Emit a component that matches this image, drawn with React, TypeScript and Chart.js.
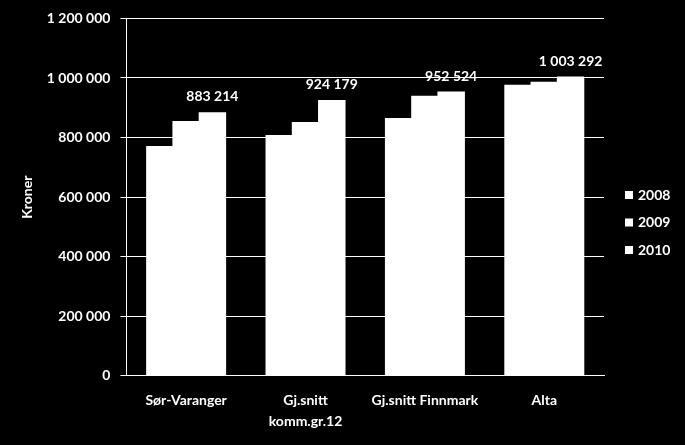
import React, { useEffect, useRef } from "react";
import { Chart, registerables } from "chart.js";

Chart.register(...registerables);

const categories: (string | string[])[] = [
  "Sør-Varanger",
  ["Gj.snitt", "komm.gr.12"],
  "Gj.snitt Finnmark",
  "Alta",
];
const seriesNames = ["2008", "2009", "2010"];
const values2008 = [770000, 807000, 864000, 975000];
const values2009 = [854000, 850000, 938000, 985000];
const values2010 = [883214, 924179, 952524, 1003292];
const yMax = 1200000;
const yStep = 200000;

const FONT = "Lato, 'Open Sans', sans-serif";
const FS = 14;

function fmt(n: number): string {
  return Math.round(n)
    .toString()
    .replace(/\B(?=(\d{3})+(?!\d))/g, " ");
}

const labelPlugin = {
  id: "valueLabels",
  afterDatasetsDraw(chart: any) {
    const ctx = chart.ctx;
    const idx = 2;
    const meta = chart.getDatasetMeta(idx);
    const data = chart.data.datasets[idx].data as number[];
    ctx.save();
    ctx.fillStyle = "#ffffff";
    ctx.font = `bold ${FS}px ${FONT}`;
    ctx.textAlign = "center";
    ctx.textBaseline = "middle";
    meta.data.forEach((bar: any, i: number) => {
      ctx.fillText(fmt(data[i]), bar.x, bar.y - 16);
    });
    ctx.restore();
  },
};

const legendPlugin = {
  id: "sideLegend",
  afterDraw(chart: any) {
    const ctx = chart.ctx;
    const area = chart.chartArea;
    const ds = chart.data.datasets;
    const step = 27.5;
    const cy = chart.height / 2;
    const startY = cy - ((ds.length - 1) * step) / 2;
    const x = area.right + 21;
    ctx.save();
    ctx.font = `bold ${FS}px ${FONT}`;
    ctx.textBaseline = "middle";
    ctx.textAlign = "left";
    ds.forEach((d: any, i: number) => {
      const y = startY + i * step;
      ctx.fillStyle = d.backgroundColor;
      ctx.fillRect(x, y - 4, 8, 8);
      ctx.fillStyle = "#ffffff";
      ctx.fillText(d.label, x + 13, y);
    });
    ctx.restore();
  },
};

export default function App() {
  const ref = useRef<HTMLCanvasElement>(null);
  useEffect(() => {
    if (!ref.current) return;
    const chart = new Chart(ref.current, {
      type: "bar",
      data: {
        labels: categories,
        datasets: [
          { label: seriesNames[0], data: values2008, backgroundColor: "#ffffff" },
          { label: seriesNames[1], data: values2009, backgroundColor: "#ffffff" },
          { label: seriesNames[2], data: values2010, backgroundColor: "#ffffff" },
        ],
      },
      options: {
        animation: false,
        responsive: false,
        maintainAspectRatio: false,
        layout: { padding: { left: 13, top: 17, right: 81, bottom: -1 } },
        datasets: {
          bar: { categoryPercentage: 0.66, barPercentage: 1, borderWidth: 0, inflateAmount: 0.6 },
        },
        plugins: { legend: { display: false }, tooltip: { enabled: false } },
        scales: {
          x: {
            grid: { display: false, drawTicks: false },
            border: { display: true, color: "#ffffff", width: 1 },
            ticks: {
              color: "#ffffff",
              padding: 15,
              maxRotation: 0,
              autoSkip: false,
              font: { family: FONT, size: FS, weight: "bold", lineHeight: 1.43 },
            },
          },
          y: {
            min: 0,
            max: yMax,
            grid: { color: "#ffffff", lineWidth: 1, drawTicks: true, tickLength: 6, tickColor: "#ffffff" },
            border: { display: true, color: "#ffffff", width: 1 },
            ticks: {
              stepSize: yStep,
              color: "#ffffff",
              padding: 10,
              font: { family: FONT, size: FS, weight: "bold" },
              callback: (v: any) => fmt(Number(v)),
            },
            title: {
              display: true,
              text: "Kroner",
              color: "#ffffff",
              padding: { top: 6, bottom: 1 },
              font: { family: FONT, size: FS, weight: "bold" },
            },
          },
        },
      },
      plugins: [labelPlugin, legendPlugin],
    });
    return () => chart.destroy();
  }, []);
  return (
    <div style={{ position: "fixed", left: 0, top: 0, width: 685, height: 445, background: "#000000" }}>
      <canvas ref={ref} width={685} height={445} style={{ display: "block", width: 685, height: 445 }} />
    </div>
  );
}
